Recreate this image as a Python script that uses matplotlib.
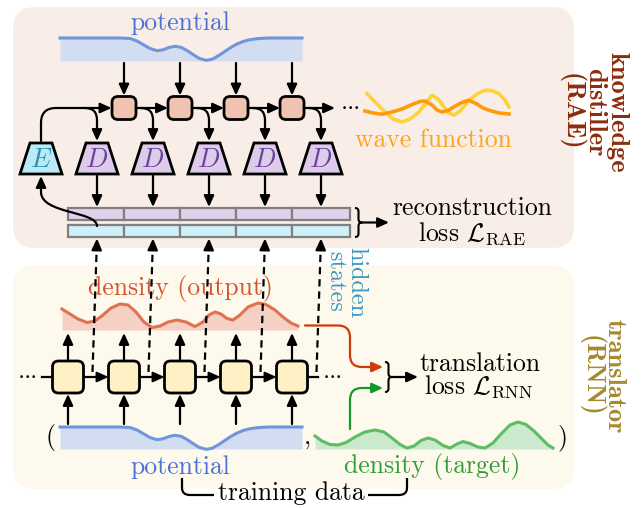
import matplotlib.pyplot as plt
from matplotlib.patches import FancyBboxPatch, Polygon, Rectangle, FancyArrowPatch, PathPatch
from matplotlib.path import Path

plt.rcParams['font.family'] = 'cmr10'
plt.rcParams['mathtext.fontset'] = 'cm'
plt.rcParams['axes.unicode_minus'] = False

# --- curves ----------------------------------------------------------------
# potential well: depth below the flat top, same shape used twice
potential_x = [60, 80, 100, 120, 130, 137, 143, 150, 157, 163, 169, 175, 181, 187,
               193, 199, 206, 212, 218, 224, 230, 236, 243, 250, 258, 268, 302]
potential_depth = [0, 0, 0, 0, 0.5, 3, 6.5, 10.5, 12.7, 11.8, 9.5, 8.3, 9.3, 12.5,
                   16.5, 20.3, 22.3, 21.3, 18, 14, 10, 6.5, 3.5, 1.7, 0.6, 0, 0]

# predicted density (height above its base line)
density_out_x = [62, 70, 78, 87, 95, 103, 111, 120, 128, 136, 144, 152, 160, 168, 177,
                 186, 195, 203, 209, 215, 221, 227, 233, 240, 248, 258, 266, 275, 283,
                 291, 298]
density_out_h = [21, 16, 11, 7.5, 9, 15, 22, 26, 25, 18, 8, 2.5, 4, 8, 10,
                 8, 3.5, 8, 15, 18, 16, 11.5, 10, 15, 23, 27, 25.5, 20, 13,
                 7, 4]

# target density (height above its base line)
density_tgt_x = [315, 322, 330, 338, 346, 355, 365, 375, 384, 392, 400, 407, 414, 421,
                 428, 435, 443, 450, 457, 463, 470, 478, 485, 493, 501, 510, 518, 526,
                 534, 542, 548, 553]
density_tgt_h = [13, 8, 4.5, 4, 6.5, 12, 17, 19, 17, 11, 4.5, 1, 3, 8.5,
                 11, 9, 3.5, 1, 5, 7.5, 5.5, 2, 1, 6, 15, 24, 27, 24.5,
                 18, 10, 4, 1]

# wave function, two components (vertical offset from centre line)
wave_orange_x = [365, 373, 382, 392, 402, 412, 420, 425, 432, 437, 442, 448, 455, 462,
                 469, 477, 483, 489, 499, 509]
wave_orange_v = [3, 5, 6.3, 4, 1, -3.5, -6.5, -7, -3, 2, 4, 2.5, -1.7, -5.5,
                 -7.7, -4, 0, 2.3, 5, 6]
wave_yellow_x = [367, 376, 385, 393, 402, 410, 419, 426, 432, 438, 444, 449, 454, 460,
                 469, 477, 485, 492, 499, 505, 509]
wave_yellow_v = [-14.3, -5, 4, 11, 14, 11, 4, -5, -12.7, -9, -1, 5, 7.3, 3,
                 -7.7, -14, -17.7, -17.5, -14.3, -8, -1]

distiller_lines = ['knowledge', 'distiller', '(RAE)']
translator_lines = ['translator', '(RNN)']

# --- layout -----------------------------------------------------------------
cols = [68, 124, 180, 236, 292]           # RNN cells / bar separators
dcols = [c + 29 for c in cols]            # decoders D
rae_cells = cols[1:]
rnn_y = 377
rae_y = 108
K = 'black'
HEAD = '-|>,head_length=0.55,head_width=0.25'
FS = 18.5

fig = plt.figure(figsize=(6.42, 5.08), dpi=100)
ax = fig.add_axes([0, 0, 1, 1])
ax.set_xlim(0, 642)
ax.set_ylim(508, 0)
ax.axis('off')


def arrow(p0, p1, color=K, lw=1.6, z=4):
    ax.add_patch(FancyArrowPatch(p0, p1, arrowstyle=HEAD, mutation_scale=12, lw=lw,
                                 color=color, shrinkA=0, shrinkB=0, zorder=z))


def path_arrow(verts, codes, color=K, lw=1.6, head=True, z=4):
    style = HEAD if head else '-'
    ax.add_patch(FancyArrowPatch(path=Path(verts, codes), arrowstyle=style,
                                 mutation_scale=12, lw=lw, color=color, zorder=z))


def brace(x, y0, y1, w):
    xm, xt, ym, r = x + w / 2, x + w, (y0 + y1) / 2, w / 2
    verts = [(x, y0), (xm, y0), (xm, y0 + r), (xm, ym - r), (xm, ym), (xt, ym),
             (xm, ym), (xm, ym + r), (xm, y1 - r), (xm, y1), (x, y1)]
    codes = [Path.MOVETO, Path.CURVE3, Path.CURVE3, Path.LINETO, Path.CURVE3, Path.CURVE3,
             Path.CURVE3, Path.CURVE3, Path.LINETO, Path.CURVE3, Path.CURVE3]
    ax.add_patch(PathPatch(Path(verts, codes), fill=False, lw=1.5, ec=K, zorder=4))


def cell(cx, cy, w, h, fc):
    ax.add_patch(FancyBboxPatch((cx - w / 2, cy - h / 2), w, h,
                                boxstyle='round,pad=0,rounding_size=6',
                                fc=fc, ec=K, lw=2, zorder=5))


def trapezoid(cx, fc, tc, label):
    ax.add_patch(Polygon([(cx - 11, 143), (cx + 11, 143), (cx + 21, 174), (cx - 21, 174)],
                         closed=True, fc=fc, ec=K, lw=2, zorder=5))
    ax.text(cx, 160, label, color=tc, fontsize=19, ha='center', va='center', zorder=6)


def potential(top, bottom):
    ys = [top + d for d in potential_depth]
    ax.fill_between(potential_x, ys, bottom, color='#d2ddf2', lw=0, zorder=1)
    ax.plot(potential_x, ys, color='#7095dc', lw=2.2, zorder=2)


def side_label(lines, baselines, yc, color):
    # vertical bold labels, read top to bottom; x given as baseline position
    for s, xb in zip(lines, baselines):
        ax.text(xb, yc, s, family='cmb10', fontsize=19, color=color, rotation=-90,
                rotation_mode='anchor', ha='center', va='baseline')


# panels
ax.add_patch(FancyBboxPatch((13, 7), 561, 241, boxstyle='round,pad=0,rounding_size=22',
                            fc='#f9ede8', ec='none', zorder=0))
ax.add_patch(FancyBboxPatch((13, 265), 561, 224, boxstyle='round,pad=0,rounding_size=22',
                            fc='#fdf9ed', ec='none', zorder=0))

# ---------------- knowledge distiller (RAE) ----------------
potential(38, 61)
ax.text(180, 30, 'potential', color='#4c71d6', fontsize=FS, ha='center', va='baseline')

for cx in rae_cells:
    arrow((cx, 63), (cx, rae_y - 12.5))
    cell(cx, rae_y, 24, 23, '#efc2b2')

# E -> first cell
path_arrow([(41, 141), (41, 123), (41, rae_y), (56, rae_y), (111.5, rae_y)],
           [Path.MOVETO, Path.LINETO, Path.CURVE3, Path.CURVE3, Path.LINETO])
for a, b in zip(rae_cells[:-1], rae_cells[1:]):
    arrow((a + 12, rae_y), (b - 12, rae_y))
arrow((rae_cells[-1] + 12, rae_y), (335, rae_y))
ax.text(350, rae_y - 2, r'$\cdots$', fontsize=15, ha='center', va='center')

# branches into decoders
for dx in dcols:
    path_arrow([(dx - 12, rae_y), (dx, rae_y), (dx, rae_y + 12), (dx, 141)],
               [Path.MOVETO, Path.CURVE3, Path.CURVE3, Path.LINETO])
    trapezoid(dx, '#dccbe9', '#6a3f9c', r'$D$')
    arrow((dx, 175), (dx, 207))
trapezoid(41, '#b9ebf6', '#2b8fb0', r'$E$')

# wave function
ax.plot(wave_yellow_x, [108 + v for v in wave_yellow_v], color='#ffd23a', lw=2.6, zorder=2)
ax.plot(wave_orange_x, [108 + v for v in wave_orange_v], color='#ff9a0a', lw=2.6, zorder=2)
ax.text(433, 147, 'wave function', color='#ffa31a', fontsize=FS, ha='center', va='baseline')

# reconstructed / hidden state bars
bar_edges = cols + [350]
for x0, x1 in zip(bar_edges[:-1], bar_edges[1:]):
    ax.add_patch(Rectangle((x0, 208), x1 - x0, 12, fc='#e0d1ec', ec='#808080', lw=1.6, zorder=3))
    ax.add_patch(Rectangle((x0, 225), x1 - x0, 12, fc='#cff0f8', ec='#808080', lw=1.6, zorder=3))

# hidden state -> E
path_arrow([(97, 226), (97, 211), (41, 214), (41, 192), (41, 176)],
           [Path.MOVETO, Path.CURVE4, Path.CURVE4, Path.CURVE4, Path.LINETO])

brace(355, 208, 237, 7)
arrow((362, 222.5), (389, 222.5))
ax.text(472, 215, 'reconstruction', fontsize=FS, ha='center', va='baseline')
ax.text(472, 241, r'loss $\mathcal{L}_{\mathrm{RAE}}$', fontsize=FS, ha='center', va='baseline')

side_label(distiller_lines, [611, 588, 565], 112, '#8c2c0c')

# ---------------- translator (RNN) ----------------
ax.fill_between(density_out_x, [330 - h for h in density_out_h], 330,
                color='#f4d0c5', lw=0, zorder=1)
ax.plot(density_out_x, [330 - h for h in density_out_h], color='#e0734f', lw=2.2, zorder=2)
ax.text(180, 295, 'density (output)', color='#d4552b', fontsize=FS, ha='center', va='baseline')

potential(427, 449)
ax.fill_between(density_tgt_x, [449 - h for h in density_tgt_h], 449,
                color='#cbe9cd', lw=0, zorder=1)
ax.plot(density_tgt_x, [449 - h for h in density_tgt_h], color='#5cbd62', lw=2.2, zorder=2)

ax.text(51, 444, '(', fontsize=FS, ha='center', va='baseline')
ax.text(307, 445, ',', fontsize=FS, ha='center', va='baseline')
ax.text(563, 444, ')', fontsize=FS, ha='center', va='baseline')
ax.text(180, 474, 'potential', color='#4c71d6', fontsize=FS, ha='center', va='baseline')
ax.text(432, 473, 'density (target)', color='#2f9f34', fontsize=FS, ha='center', va='baseline')

for cx, dx in zip(cols, dcols):
    cell(cx, rnn_y, 31, 32, '#fef1c6')
    arrow((cx, rnn_y - 17), (cx, 333))
    arrow((cx, 424), (cx, rnn_y + 17))
    # hidden states going up (dashed)
    ax.plot([cx + 24.5, dx - 0.3], [372, 248], color=K, lw=1.6,
            linestyle=(0, (3.3, 2.2)), zorder=4)
    arrow((dx - 0.3, 250), (dx, 238.5))

for a, b in zip(cols[:-1], cols[1:]):
    arrow((a + 15.5, rnn_y), (b - 15.5, rnn_y))
ax.plot([42, cols[0] - 15.5], [rnn_y, rnn_y], color=K, lw=1.6, zorder=4)
ax.plot([cols[-1] + 15.5, 318], [rnn_y, rnn_y], color=K, lw=1.6, zorder=4)
ax.text(27, rnn_y - 2, r'$\cdots$', fontsize=15, ha='center', va='center')
ax.text(332, rnn_y - 2, r'$\cdots$', fontsize=15, ha='center', va='center')

ax.text(356, 283, 'hidden', color='#3a97c0', fontsize=17.5, rotation=-90,
        ha='center', va='center')
ax.text(335, 281, 'states', color='#3a97c0', fontsize=17.5, rotation=-90,
        ha='center', va='center')

# loss inputs
path_arrow([(305, 325.5), (338, 325.5), (350, 325.5), (350, 337.5), (350, 355),
            (350, 367), (362, 367), (383, 367)],
           [Path.MOVETO, Path.LINETO, Path.CURVE3, Path.CURVE3, Path.LINETO,
            Path.CURVE3, Path.CURVE3, Path.LINETO], color='#cf3a0a')
path_arrow([(350, 429), (350, 400), (350, 388), (362, 388), (383, 388)],
           [Path.MOVETO, Path.LINETO, Path.CURVE3, Path.CURVE3, Path.LINETO],
           color='#12992a')
brace(385, 362, 392, 7)
arrow((392, 377), (418, 377))
ax.text(480, 371, 'translation', fontsize=FS, ha='center', va='baseline')
ax.text(479, 394, r'loss $\mathcal{L}_{\mathrm{RNN}}$', fontsize=FS, ha='center', va='baseline')

side_label(translator_lines, [608, 585], 376, '#a68a2d')

# training data bracket
ax.add_patch(PathPatch(Path([(182, 478), (182, 488), (182, 495), (190, 495), (214, 495)],
                            [Path.MOVETO, Path.LINETO, Path.CURVE3, Path.CURVE3, Path.LINETO]),
                       fill=False, lw=1.6, ec=K))
ax.add_patch(PathPatch(Path([(407, 478), (407, 488), (407, 495), (399, 495), (368, 495)],
                            [Path.MOVETO, Path.LINETO, Path.CURVE3, Path.CURVE3, Path.LINETO]),
                       fill=False, lw=1.6, ec=K))
ax.text(291, 500, 'training data', fontsize=FS, ha='center', va='baseline')

fig.savefig('out.png', dpi=100, facecolor='white')
